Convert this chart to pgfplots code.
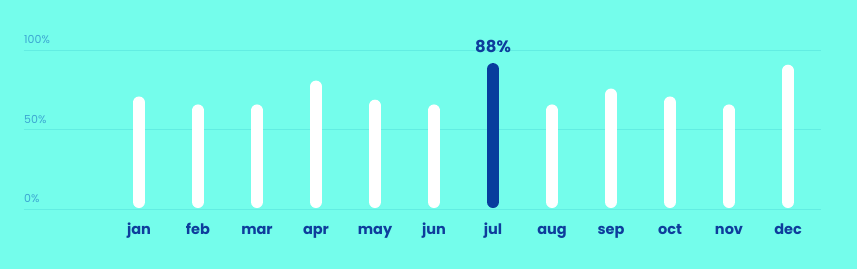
\documentclass[border=0pt]{standalone}
\usepackage{pgfplots}
\pgfplotsset{compat=1.18}
\usepackage{fontspec}
\setmainfont{Poppins}
\definecolor{bgc}{HTML}{74FDEB}
\definecolor{gridc}{HTML}{62EDE2}
\definecolor{tickc}{HTML}{3CA7D2}
\definecolor{monthc}{HTML}{0E3D9C}
\definecolor{julc}{HTML}{073D9D}
\begin{document}
\begin{tikzpicture}[x=1pt,y=1pt]
\fill[bgc] (-24,-60) rectangle (833,209);
\begin{axis}[
  at={(0,0)}, anchor=south west,
  scale only axis, width=797pt, height=159pt,
  xmin=-1.949, xmax=11.559, ymin=0, ymax=100,
  clip=false,
  /pgf/number format/assume math mode=true,
  axis line style={draw=none},
  major tick length=0pt,
  ymajorgrids, grid style={color=gridc, line width=0.8pt},
  ytick={0,50,100}, yticklabels={0\%,50\%,100\%},
  yticklabel style={anchor=south west, inner sep=0pt, yshift=6pt, font=\fontsize{11}{13}\selectfont, color=tickc},
  xtick={0,...,11},
  xticklabels={jan,feb,mar,apr,may,jun,jul,aug,sep,oct,nov,dec},
  xticklabel style={anchor=base, inner sep=0pt, yshift=-25pt, font=\bfseries\fontsize{14.5}{16}\selectfont, color=monthc},
]
\addplot[white, line width=12pt, line cap=round, unbounded coords=jump] coordinates {
(0,4.4) (0,67) (0,nan)
(1,4.4) (1,62) (1,nan)
(2,4.4) (2,62) (2,nan)
(3,4.4) (3,77) (3,nan)
(4,4.4) (4,65) (4,nan)
(5,4.4) (5,62) (5,nan)
(7,4.4) (7,62) (7,nan)
(8,4.4) (8,72) (8,nan)
(9,4.4) (9,67) (9,nan)
(10,4.4) (10,62) (10,nan)
(11,4.4) (11,87)
};
\addplot[julc, line width=12pt, line cap=round] coordinates {(6,4.4) (6,88)};
\addplot[draw=none, nodes near coords={\pgfmathprintnumber{\pgfplotspointmeta}\%},
  nodes near coords style={anchor=base, inner sep=0pt, yshift=17pt, font=\bfseries\fontsize{16.5}{19}\selectfont, color=monthc}]
  coordinates {(6,88)};
\end{axis}
\pgfresetboundingbox
\path (-24,-60) rectangle (833,209);
\end{tikzpicture}
\end{document}
